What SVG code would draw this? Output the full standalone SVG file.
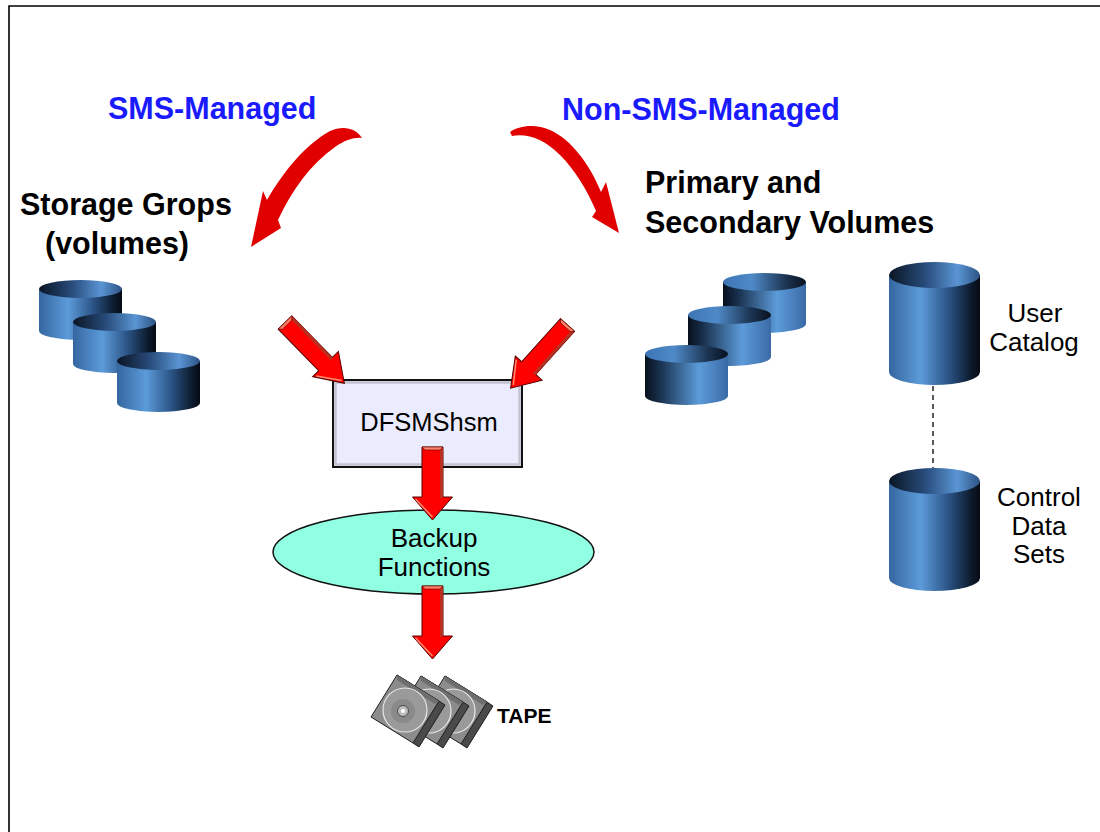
<svg xmlns="http://www.w3.org/2000/svg" xmlns:xlink="http://www.w3.org/1999/xlink" width="1100" height="832" viewBox="0 0 1100 832">
  <style>
    .title { font-family: "Liberation Sans", Arial, sans-serif; font-weight: bold; font-size: 30.5px; fill: #1a1aff; }
    .head { font-family: "Liberation Sans", Arial, sans-serif; font-weight: bold; font-size: 30.5px; fill: #000; }
    .lbl { font-family: "Liberation Sans", Arial, sans-serif; font-size: 26px; fill: #000; }
    .tape-lbl { font-family: "Liberation Sans", Arial, sans-serif; font-weight: bold; font-size: 21px; fill: #000; }
    .curve { fill: #e00000; }
    .blk { fill: #ff0000; stroke: #5a0000; stroke-width: 1; stroke-linejoin: miter; }
    .blk-cap { fill: #ff8266; stroke: #5a0000; stroke-width: 0.6; }
    .blk-side { fill: #b83020; }
    .blk-hi { fill: none; stroke: #ff8a70; stroke-width: 1.5; }
    .cart { stroke: #1e1e1e; stroke-width: 1; stroke-linejoin: round; }
  </style>
  <defs>
    <!-- cylinder shading: light face on the left, dark on the right -->
    <linearGradient id="bodyA" x1="0" y1="0" x2="1" y2="0">
      <stop offset="0" stop-color="#3566a0"/>
      <stop offset="0.35" stop-color="#5c9bd9"/>
      <stop offset="0.65" stop-color="#2b5487"/>
      <stop offset="0.9" stop-color="#0d1b2e"/>
      <stop offset="1" stop-color="#060b14"/>
    </linearGradient>
    <linearGradient id="topA" x1="0" y1="0" x2="1" y2="0">
      <stop offset="0" stop-color="#0a1524"/>
      <stop offset="0.4" stop-color="#284c7c"/>
      <stop offset="0.75" stop-color="#5a95d3"/>
      <stop offset="1" stop-color="#2d5384"/>
    </linearGradient>
    <!-- mirrored shading: dark on the left, light on the right -->
    <linearGradient id="bodyB" x1="0" y1="0" x2="1" y2="0">
      <stop offset="0" stop-color="#07101c"/>
      <stop offset="0.18" stop-color="#18304d"/>
      <stop offset="0.65" stop-color="#5c9bd9"/>
      <stop offset="1" stop-color="#3a6aa6"/>
    </linearGradient>
    <linearGradient id="topB" x1="0" y1="0" x2="1" y2="0">
      <stop offset="0" stop-color="#3d74b4"/>
      <stop offset="0.35" stop-color="#4f8ac8"/>
      <stop offset="0.75" stop-color="#1c3554"/>
      <stop offset="1" stop-color="#08111d"/>
    </linearGradient>

    <g id="cylSA">
      <path d="M0,0 V42 A41.5,9 0 0 0 83,42 V0 Z" fill="url(#bodyA)"/>
      <ellipse cx="41.5" cy="0" rx="41.5" ry="9" fill="url(#topA)"/>
    </g>
    <g id="cylSB">
      <path d="M0,0 V42 A41.5,9 0 0 0 83,42 V0 Z" fill="url(#bodyB)"/>
      <ellipse cx="41.5" cy="0" rx="41.5" ry="9" fill="url(#topB)"/>
    </g>
    <g id="cylT">
      <path d="M0,0 V97 A45.5,13 0 0 0 91,97 V0 Z" fill="url(#bodyA)"/>
      <ellipse cx="45.5" cy="0" rx="45.5" ry="13" fill="url(#topA)"/>
    </g>

    <!-- 3D block arrow pointing down, origin at the tail centre -->
    <g id="arrowDown">
      <polygon class="blk" points="-10.5,0 10.5,0 10.5,50 20,50 0,73 -20,50 -10.5,50"/>
      <polygon class="blk-side" points="7.5,3 10.5,0 10.5,50 7.5,52"/>
      <polygon class="blk-cap" points="-10.5,0 10.5,0 7.5,3 -7.5,3"/>
      <polyline class="blk-hi" points="-17,52 0,70"/>
    </g>
    <!-- slimmer block arrow used on the diagonals -->
    <g id="arrowDiag">
      <polygon class="blk" points="-9.5,0 9.5,0 9.5,58 18,58 0,85 -18,58 -9.5,58"/>
      <polygon class="blk-side" points="6.5,3 9.5,0 9.5,58 6.5,60"/>
      <polygon class="blk-cap" points="-9.5,0 9.5,0 6.5,3 -6.5,3"/>
      <polyline class="blk-hi" points="-15,60 0,81"/>
    </g>

    <!-- tape cartridge, centred on its reel -->
    <g id="cartridge">
      <polygon class="cart" fill="#4a4a4a" points="-8,-34 34,-8 40,-4 14,38 8,34"/>
      <polygon class="cart" fill="#8c8c8c" points="-8,-34 34,-8 8,34 -34,8"/>
      <polygon fill="#6e6e6e" points="-8,-34 34,-8 30,-5 -8,-29"/>
      <circle cx="0" cy="1" r="22" fill="#9a9a9a" stroke="#e8e8e8" stroke-width="1.2"/>
      <circle cx="-2" cy="2" r="12" fill="#8a8a8a"/>
      <circle cx="-2" cy="2" r="5.5" fill="#bdbdbd" stroke="#4a4a4a" stroke-width="1"/>
      <circle cx="-2" cy="2" r="2" fill="#ffffff"/>
    </g>
  </defs>

  <!-- page frame -->
  <path d="M9,832 V6 H1100" fill="none" stroke="#000" stroke-width="1.6"/>

  <!-- headings -->
  <text class="title" x="108" y="119">SMS-Managed</text>
  <text class="title" x="562" y="120">Non-SMS-Managed</text>
  <text class="head" x="20" y="215">Storage Grops</text>
  <text class="head" x="117" y="254" text-anchor="middle">(volumes)</text>
  <text class="head" x="645" y="193">Primary and</text>
  <text class="head" x="645" y="233">Secondary Volumes</text>

  <!-- storage group volumes -->
  <g id="storage-groups">
    <use xlink:href="#cylSA" transform="translate(39,289)"/>
    <use xlink:href="#cylSA" transform="translate(73,322)"/>
    <use xlink:href="#cylSA" transform="translate(117,361)"/>
  </g>

  <!-- primary and secondary volumes -->
  <g id="primary-secondary-volumes">
    <use xlink:href="#cylSB" transform="translate(723,282)"/>
    <use xlink:href="#cylSB" transform="translate(688,315)"/>
    <use xlink:href="#cylSB" transform="translate(645,354)"/>
  </g>

  <g id="user-catalog">
    <use xlink:href="#cylT" transform="translate(889,275)"/>
    <text class="lbl" x="1035" y="322" text-anchor="middle">User</text>
    <text class="lbl" x="1034" y="351" text-anchor="middle">Catalog</text>
  </g>

  <g id="control-data-sets">
    <use xlink:href="#cylT" transform="translate(889,481)"/>
    <text class="lbl" x="1039" y="506" text-anchor="middle">Control</text>
    <text class="lbl" x="1039" y="535" text-anchor="middle">Data</text>
    <text class="lbl" x="1039" y="563" text-anchor="middle">Sets</text>
  </g>

  <g id="dfsmshsm">
    <rect x="333" y="380" width="189" height="87" fill="#eaebfc" stroke="#111" stroke-width="2"/>
    <rect x="335.5" y="382.5" width="184" height="82" fill="none" stroke="#c4c4d0" stroke-width="2.5"/>
    <text class="lbl" x="429" y="431" text-anchor="middle" style="font-size:25.5px">DFSMShsm</text>
  </g>

  <g id="backup-functions">
    <ellipse cx="433.5" cy="552" rx="160.5" ry="42" fill="#90ffe2" stroke="#111" stroke-width="1.5"/>
    <text class="lbl" x="434" y="547" text-anchor="middle">Backup</text>
    <text class="lbl" x="434" y="576" text-anchor="middle">Functions</text>
  </g>

  <g id="tape">
    <use xlink:href="#cartridge" transform="translate(453,710)"/>
    <use xlink:href="#cartridge" transform="translate(429,710)"/>
    <use xlink:href="#cartridge" transform="translate(405,709)"/>
    <text class="tape-lbl" x="497" y="723">TAPE</text>
  </g>

  <!-- connectors -->
  <g id="connectors">
    <path class="curve" d="M362,138 C356,128 343,125 330,131 C305,145 283,172 267,200 L263,191 L251,247 L281,228 L278,220 C292,190 310,165 335,147 C345,140 355,137 362,138 Z"/>
    <path class="curve" d="M510,132 C518,126 535,123 550,130 C572,140 590,165 601,192 L606,182 L619,233 L592,217 L596,211 C587,190 575,170 560,155 C545,140 528,133 512,136 Z"/>
    <use xlink:href="#arrowDiag" transform="translate(285,322.5) rotate(-44.3)"/>
    <use xlink:href="#arrowDiag" transform="translate(567.5,325) rotate(42)"/>
    <use xlink:href="#arrowDown" transform="translate(432.5,447)"/>
    <use xlink:href="#arrowDown" transform="translate(432.5,586)"/>
    <line x1="933" y1="386" x2="933" y2="468" stroke="#000" stroke-width="1.3" stroke-dasharray="5,4"/>
  </g>
</svg>
